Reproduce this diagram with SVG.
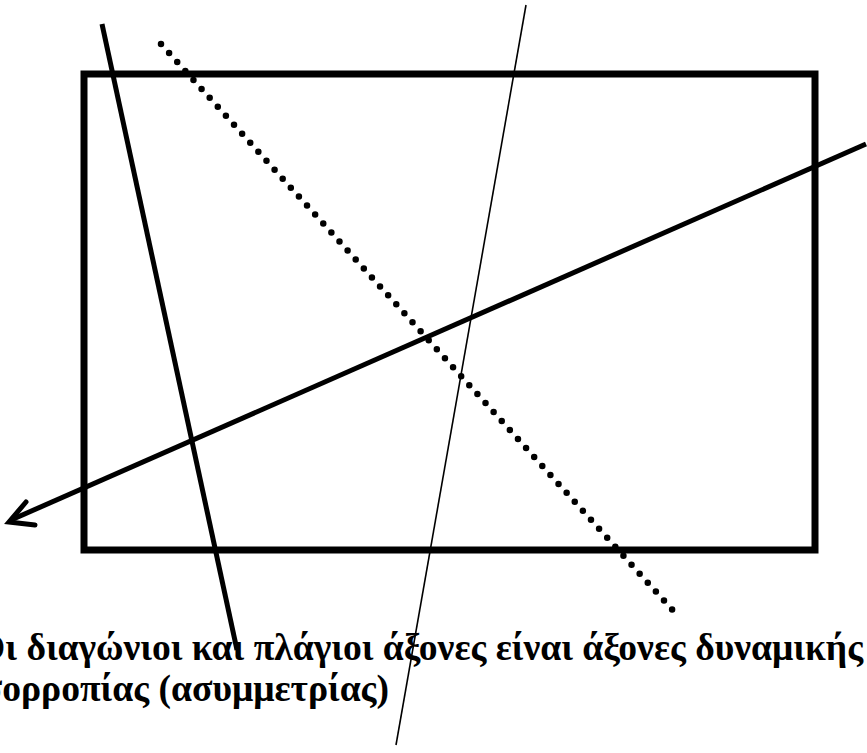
<svg xmlns="http://www.w3.org/2000/svg" width="867" height="753" viewBox="0 0 867 753">
<style>
.ln{fill:none;stroke:#000}
.dot{fill:none;stroke:#000;stroke-width:6.5;stroke-linecap:round;stroke-dasharray:0 12.1}
.txt{font-family:"Liberation Serif","Times New Roman",serif;font-weight:bold;font-size:37.6px;fill:#000}
</style>
<rect width="867" height="753" fill="#fff"/>
<g id="frame">
<rect x="84" y="74" width="731" height="476" fill="none" stroke="#000" stroke-width="7"/>
</g>
<g id="connectors">
<line class="ln" x1="102" y1="24" x2="237" y2="650" stroke-width="5"/>
<line class="dot" x1="161" y1="44" x2="677" y2="615"/>
<line class="ln" x1="526" y1="5" x2="396" y2="745" stroke-width="1.6"/>
<line class="ln" x1="866" y1="144" x2="11" y2="520" stroke-width="5"/>
<polyline class="ln" points="26,502 9,522 35,525" stroke-width="5" stroke-linecap="round" stroke-linejoin="miter"/>
</g>
<g id="caption">
<text class="txt" x="863" y="660" text-anchor="end">Οι διαγώνιοι και πλάγιοι άξονες είναι άξονες δυναμικής</text>
<text class="txt" x="389" y="701" text-anchor="end">ισορροπίας (ασυμμετρίας)</text>
</g>
</svg>
